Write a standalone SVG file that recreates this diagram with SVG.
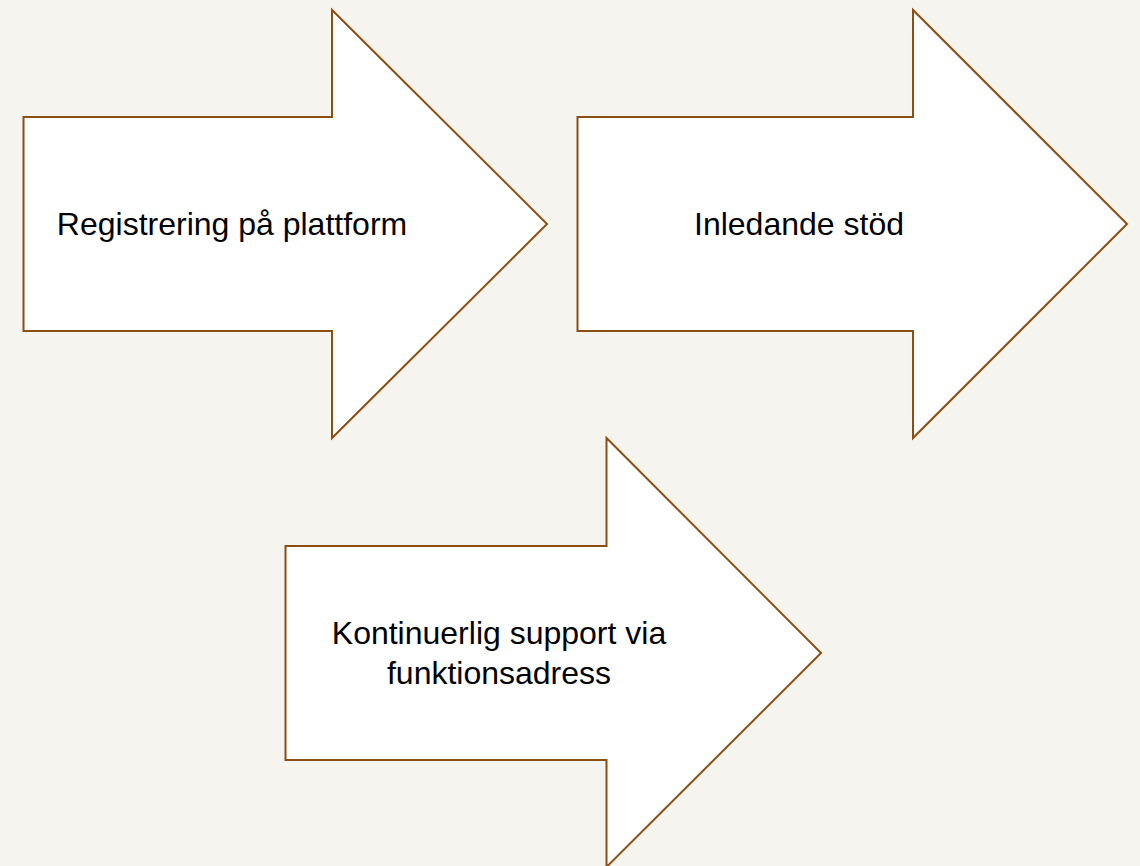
<svg xmlns="http://www.w3.org/2000/svg" width="1140" height="866" viewBox="0 0 1140 866">
<style>
.arrow{fill:#ffffff;stroke:#8B4F14;stroke-width:2;stroke-linejoin:miter}
.lbl{font-family:"Liberation Sans",Arial,sans-serif;font-size:32px;fill:#000;text-anchor:middle}
</style>
<rect x="0" y="0" width="1140" height="866" fill="#F5F4EF"/>
<g id="node1">
<polygon class="arrow" points="23.5,117 332,117 332,10 547,224 332,438 332,331 23.5,331"/>
<text class="lbl" x="232" y="235">Registrering på plattform</text>
</g>
<g id="node2">
<polygon class="arrow" points="577.5,117 913,117 913,10 1127,224 913,438 913,331 577.5,331"/>
<text class="lbl" x="799" y="235">Inledande stöd</text>
</g>
<g id="node3">
<polygon class="arrow" points="285.5,546 606.5,546 606.5,438 821,653 606.5,867 606.5,760 285.5,760"/>
<text class="lbl" x="499" y="644">Kontinuerlig support via</text>
<text class="lbl" x="499" y="684">funktionsadress</text>
</g>
<g id="connectors"></g>
</svg>
